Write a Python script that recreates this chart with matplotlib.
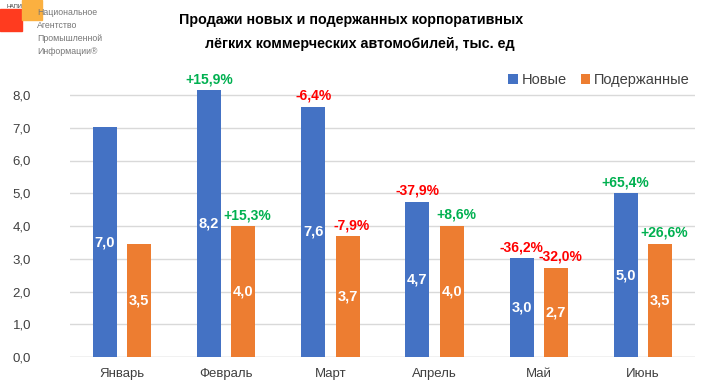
import matplotlib.pyplot as plt
from matplotlib.patches import Rectangle
import numpy as np

plt.rcParams["font.family"] = ["Liberation Sans", "DejaVu Sans"]

months = ["Январь", "Февраль", "Март", "Апрель", "Май", "Июнь"]
new_vals = [7.02, 8.15, 7.64, 4.74, 3.01, 5.0]
used_vals = [3.46, 4.0, 3.69, 4.01, 2.72, 3.46]
new_labels = ["7,0", "8,2", "7,6", "4,7", "3,0", "5,0"]
used_labels = ["3,5", "4,0", "3,7", "4,0", "2,7", "3,5"]
new_pct = ["", "+15,9%", "-6,4%", "-37,9%", "-36,2%", "+65,4%"]
used_pct = ["", "+15,3%", "-7,9%", "+8,6%", "-32,0%", "+26,6%"]
yticks = [0, 1, 2, 3, 4, 5, 6, 7, 8]

BLUE = "#4472C4"
ORANGE = "#ED7D31"
GREEN = "#00B050"
RED = "#FF0000"

W, H = 703, 384
fig = plt.figure(figsize=(W / 100, H / 100), dpi=100)

# axes: x from 70 to 695 px, y=0 at 357 px, 32.75 px per unit
ymax = 8.3
top_px = 357 - ymax * 32.75
ax = fig.add_axes([70 / W, (H - 357) / H, 625 / W, (357 - top_px) / H])

x = np.arange(len(months))
bw = 0.23
off = 0.165
ax.bar(x - off, new_vals, bw, color=BLUE, label="Новые", zorder=2)
ax.bar(x + off, used_vals, bw, color=ORANGE, label="Подержанные", zorder=2)

for i in range(len(months)):
    ax.text(x[i] - off, new_vals[i] / 2, new_labels[i], ha="center", va="center",
            color="white", fontsize=10.5, fontweight="bold")
    ax.text(x[i] + off, used_vals[i] / 2, used_labels[i], ha="center", va="center",
            color="white", fontsize=10.5, fontweight="bold")
    if new_pct[i]:
        c = GREEN if new_pct[i].startswith("+") else RED
        ax.text(x[i] - off, new_vals[i] + 0.12, new_pct[i], ha="center", va="bottom",
                color=c, fontsize=10, fontweight="bold")
    if used_pct[i]:
        c = GREEN if used_pct[i].startswith("+") else RED
        ax.text(x[i] + off + 0.04, used_vals[i] + 0.12, used_pct[i], ha="center", va="bottom",
                color=c, fontsize=10, fontweight="bold")

ax.set_xlim(-0.5, len(months) - 0.5)
ax.set_ylim(0, ymax)
ax.set_yticks(yticks)
ax.set_yticklabels([f"{v:.1f}".replace(".", ",") for v in yticks])
ax.set_xticks(x)
ax.set_xticklabels(months)
ax.tick_params(axis="both", length=0, labelsize=9.5, colors="#404040")
ax.tick_params(axis="y", pad=28)
ax.tick_params(axis="x", pad=8)
ax.grid(axis="y", color="#D9D9D9", linewidth=1, zorder=0)
for s in ax.spines.values():
    s.set_visible(False)
ax.axhline(0, color="#D9D9D9", linewidth=1, zorder=1)

leg = fig.legend(loc="center right", bbox_to_anchor=(703 / W, 1 - 80 / H), ncol=2,
                 frameon=False, fontsize=10.5, handlelength=0.65, handleheight=0.65,
                 handletextpad=0.25, columnspacing=1.0)
for t in leg.get_texts():
    t.set_color("#404040")

fig.text(351 / W, 1 - 20 / H, "Продажи новых и подержанных корпоративных",
         ha="center", va="center", fontsize=10.3, fontweight="bold")
fig.text(360 / W, 1 - 44 / H, "лёгких коммерческих автомобилей, тыс. ед",
         ha="center", va="center", fontsize=10.3, fontweight="bold")

# logo
fig.patches.append(Rectangle((0, 1 - 31 / H), 22 / W, 22 / H, transform=fig.transFigure,
                             color="#FF3B1F", zorder=0))
fig.patches.append(Rectangle((22 / W, 1 - 20 / H), 20 / W, 20 / H, transform=fig.transFigure,
                             color="#FBB040", zorder=0))
fig.text(6 / W, 1 - 7 / H, "НАПИ", fontsize=4, color="#333333", va="center")
fig.text(37 / W, 1 - 32 / H, "Национальное\nАгентство\nПромышленной\nИнформации®",
         fontsize=6.3, color="#777777", va="center", linespacing=1.55)

fig.savefig("out.png", dpi=100)
